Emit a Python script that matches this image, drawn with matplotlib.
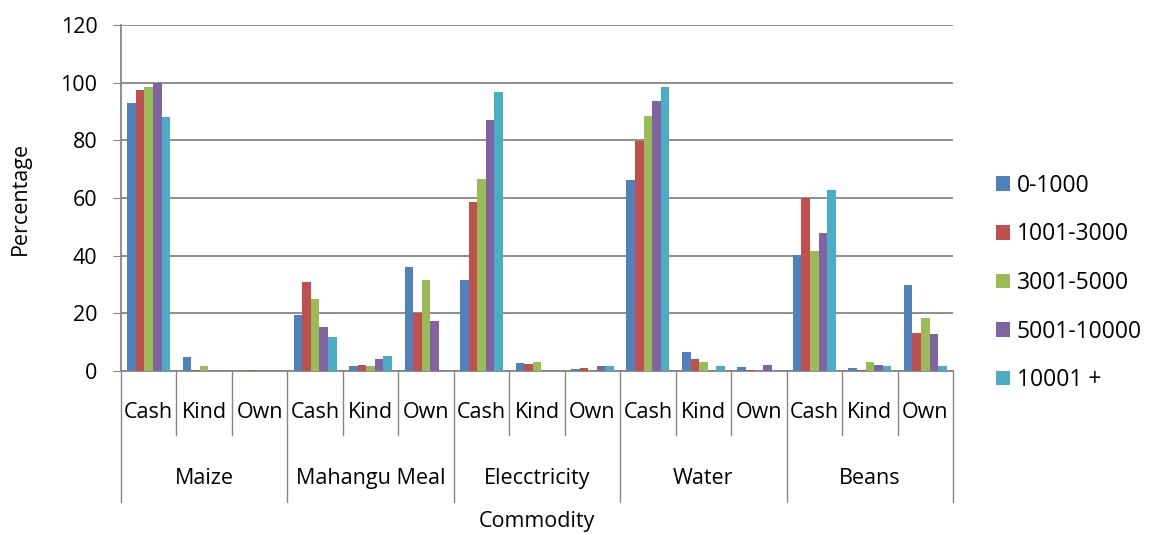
import numpy as np
import matplotlib.pyplot as plt
from matplotlib.patches import Patch

plt.rcParams['font.family'] = ['Open Sans', 'DejaVu Sans']

commodities = ['Maize', 'Mahangu Meal', 'Elecctricity', 'Water', 'Beans']
payment = ['Cash', 'Kind', 'Own']
series = ['0-1000', '1001-3000', '3001-5000', '5001-10000', '10001 +']
colors = ['#4F81BD', '#C0504D', '#9BBB59', '#8064A2', '#4BACC6']

# values per income group, in order of commodities x payment (Cash, Kind, Own)
v_0_1000 = [93, 4.9, 0, 19.5, 1.8, 36.2, 31.6, 2.8, 0.8, 66.2, 6.6, 1.4, 40.2, 0.9, 30]
v_1001_3000 = [97.5, 0.3, 0.3, 31, 2.1, 20, 58.6, 2.4, 0.9, 79.8, 4.3, 0.3, 60, 0.3, 13.3]
v_3001_5000 = [98.5, 1.6, 0, 25, 1.6, 31.6, 66.7, 3.2, 0, 88.3, 3.1, 0, 41.7, 3.2, 18.3]
v_5001_10000 = [100, 0, 0, 15.2, 4.3, 17.5, 87, 0, 1.7, 93.5, 0, 2.1, 47.8, 2.1, 13]
v_10001 = [88, 0, 0, 11.8, 5.1, 0, 96.7, 0, 1.7, 98.4, 1.6, 0, 62.7, 1.6, 1.6]
values = [v_0_1000, v_1001_3000, v_3001_5000, v_5001_10000, v_10001]

fig = plt.figure(figsize=(11.49, 5.34), dpi=100)
ax = fig.add_axes([121/1149, 1-371/534, 832/1149, 346/534])

n = len(commodities) * len(payment)
x = np.arange(n)
w = 0.155
for i, (vals, c) in enumerate(zip(values, colors)):
    ax.bar(x + (i - 2) * w, vals, width=w, color=c, edgecolor='none', zorder=3)

ax.set_xlim(-0.5, n - 0.5)
ax.set_ylim(0, 120)
ax.set_yticks(range(0, 121, 20))
ax.tick_params(axis='y', labelsize=15.5, length=6, color='#868686', pad=11)
ax.set_xticks([])
ax.yaxis.grid(True, color='#868686', linewidth=1.3, zorder=0)
for s in ['top', 'right']:
    ax.spines[s].set_visible(False)
for s in ['left', 'bottom']:
    ax.spines[s].set_color('#868686')
    ax.spines[s].set_linewidth(1.3)
ax.set_ylabel('Percentage', fontsize=15.5)
ax.yaxis.set_label_coords(-0.108, 0.5)

# multi-level category axis
tr = ax.get_xaxis_transform()
for k in range(n + 1):
    xb = k - 0.5
    low = -0.379 if k % 3 == 0 else -0.185
    ax.plot([xb, xb], [0, low], transform=tr, color='#868686', lw=1.0, clip_on=False)
for k in range(n):
    ax.text(k, -0.121, payment[k % 3], transform=tr, ha='center', va='center', fontsize=15.5)
for g, name in enumerate(commodities):
    ax.text(g * 3 + 1, -0.312, name, transform=tr, ha='center', va='center', fontsize=15.5)
ax.text(0.5, -0.434, 'Commodity', transform=ax.transAxes, ha='center', va='center', fontsize=15.5)

handles = [Patch(facecolor=c, edgecolor='none') for c in colors]
fig.legend(handles, series, loc='center left', bbox_to_anchor=(975/1149, 1-283/534),
           frameon=False, fontsize=16.5, handlelength=0.62, handleheight=0.62,
           handletextpad=0.3, labelspacing=1.07)

fig.savefig('out.png', dpi=100)
